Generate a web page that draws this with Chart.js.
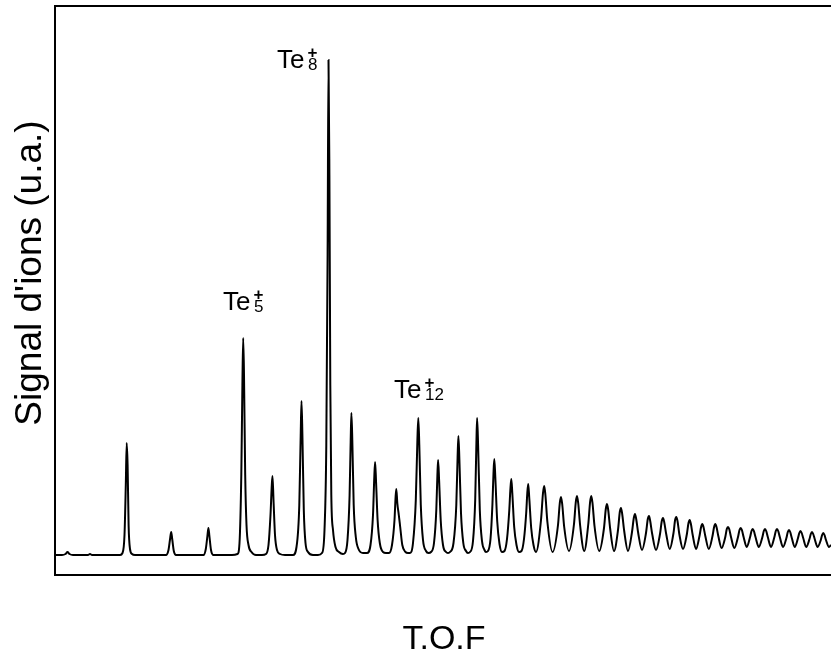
<!DOCTYPE html>
<html><head><meta charset="utf-8">
<script src="https://cdn.jsdelivr.net/npm/chart.js@4/dist/chart.umd.min.js"></script>
<style>html,body{margin:0;padding:0;background:#fff}canvas{display:block}</style>
</head><body>
<canvas id="c" width="831" height="658"></canvas>
<script>
// Time-of-flight trace (arbitrary units)
const tof = [
  0, 7, 10.5, 12.5, 14.5, 18, 33, 35, 37, 65,
  67.5, 69.5, 70.8, 71.7, 72.6, 73.6, 75, 77, 80, 105,
  111, 113.5, 115.2, 116.2, 117.2, 118.8, 121, 140,
  148.5, 150.8, 152.4, 153.4, 154.4, 156, 158.5, 177,
  182.5, 184.5, 186.3, 187.4, 188.2, 189, 190.2, 191.5, 193.5, 196.5, 201, 207,
  211, 213.5, 215.5, 216.8, 217.5, 218.5, 220, 222, 225, 230,
  238, 241.5, 244.3, 245.7, 246.5, 247.4, 248.8, 250.5, 253, 258, 263,
  267, 269.5, 271.3, 272.6, 273.5, 274.4, 275.3, 276.3, 278, 280.5, 284, 288,
  290, 292.5, 294.6, 295.7, 296.4, 297.3, 298.7, 300.8, 303.5, 308,
  312, 315.5, 318, 319.3, 320.1, 321.1, 322.6, 324.8, 328, 331,
  334, 337, 339.5, 340.6, 341.3, 342.3, 343.8, 345.2, 347.3, 350.5, 353,
  355, 358, 360.8, 362.4, 363.3, 364.3, 365.8, 368, 371, 373.5,
  376, 379, 381.3, 382.4, 383.1, 384.1, 385.7, 388, 391, 393,
  395, 398.5, 401.3, 402.6, 403.4, 404.4, 406, 408.3, 411, 413,
  415, 418, 420.2, 421.4, 422.1, 423.1, 424.8, 427, 429.5, 431,
  433, 435.5, 437.4, 438.5, 439.3, 440.3, 442.2, 444.5, 447,
  449.5, 452, 454.3, 455.4, 456.3, 457.3, 459.2, 461.5, 464,
  466.5, 469, 471.2, 472.3, 473.2, 474.2, 476.2, 478.5, 481,
  486, 488, 489.2, 490.4, 492.4, 497.6,
  503, 504.8, 506, 507.2, 509.2, 514,
  519, 520.8, 522, 523.2, 525.2, 529.2,
  533.3, 535.1, 536.3, 537.5, 539.5, 544.2,
  549, 550.8, 552, 553.2, 555.2, 559,
  563, 564.8, 566, 567.2, 569.2, 573,
  577, 578.8, 580, 581.2, 583.2, 587,
  591, 592.8, 594, 595.2, 597.2, 601,
  605, 606.8, 608, 609.2, 611.2, 614.7,
  618.5, 620.1, 621.3, 622.5, 624.3, 628,
  631.9, 633.5, 634.7, 635.9, 637.7, 641,
  644.5, 646.1, 647.3, 648.5, 650.3, 653.8,
  657.5, 659.1, 660.3, 661.5, 663.3, 666.6,
  670.3, 671.8, 673, 674.2, 676, 679.3,
  683, 684.5, 685.7, 686.9, 688.6, 691.7,
  695.1, 696.5, 697.7, 698.9, 700.5, 703.8,
  707.4, 708.8, 710, 711.2, 712.8, 716,
  719.4, 720.8, 722, 723.2, 724.8, 728,
  731.4, 732.8, 734, 735.2, 736.8, 739.7,
  743, 744.3, 745.5, 746.7, 748.2, 751.2,
  754.5, 755.8, 757, 758.2, 759.7, 762.6,
  765.8, 767.1, 768.3, 769.5, 771, 774, 776
];
const signal = [
  0, 0, 1, 3, 1, 0, 0, 1, 0, 0,
  2, 20, 70, 112, 90, 30, 6, 1, 0, 0,
  0, 5, 17, 23, 16, 4, 0, 0,
  0, 6, 19, 27, 19, 5, 0, 0,
  1, 12, 80, 170, 217, 180, 80, 30, 10, 3, 0, 0,
  1, 10, 40, 70, 79, 55, 20, 5, 1, 0,
  0, 8, 50, 120, 154, 120, 45, 12, 3, 0, 0,
  2, 25, 110, 300, 495, 380, 170, 60, 25, 8, 3, 1,
  2, 15, 60, 115, 142, 115, 50, 18, 6, 2,
  2, 10, 40, 78, 93, 72, 35, 12, 3, 2,
  2, 10, 35, 58, 66, 52, 40, 28, 10, 3, 2,
  2, 12, 55, 115, 137, 110, 50, 15, 4, 2,
  3, 12, 45, 80, 95, 75, 35, 10, 3, 2,
  3, 12, 50, 98, 119, 95, 42, 12, 4, 2,
  3, 14, 55, 112, 137, 110, 45, 14, 5, 3,
  4, 16, 50, 82, 96, 78, 34, 11, 3,
  4, 16, 45, 66, 76, 62, 28, 10, 3,
  4, 16, 42, 62, 71, 58, 27, 10, 3,
  35, 62, 69, 60, 33, 3,
  30, 52, 58, 51, 28, 4,
  31, 53, 59, 52, 29, 4,
  31, 53, 59, 52, 29, 4,
  27, 46, 51, 45, 26, 4,
  25, 43, 47, 41, 24, 4,
  23, 37, 41, 36, 22, 5,
  22, 36, 39, 34, 21, 5,
  21, 34, 37, 33, 21, 6,
  22, 35, 38, 34, 21, 6,
  21, 32, 35, 31, 20, 6,
  19, 28, 31, 28, 19, 6,
  19, 28, 31, 28, 19, 7,
  18, 26, 28, 26, 18, 7,
  18, 25, 27, 25, 18, 8,
  18, 24, 26, 24, 18, 8,
  18, 24, 26, 24, 18, 8,
  18, 24, 26, 24, 18, 8,
  17, 23, 25, 23, 17, 8,
  17, 22, 24, 22, 17, 8,
  16, 21, 23, 21, 16, 8,
  15, 20, 22, 20, 15, 8, 10
];
// Peak annotations
const labelElement = ['Te', 'Te', 'Te'];
const labelSize = ['5', '8', '12'];
const labelTof = [168, 222, 339];
const labelSignal = [245, 487, 157];
const yTitle = "Signal d'ions (u.a.)";
const xTitle = 'T.O.F';

const FONT = "'Liberation Sans', Arial, Helvetica, sans-serif";

const textLayer = {
  id: 'textLayer',
  afterDatasetsDraw(chart) {
    const ctx = chart.ctx, xs = chart.scales.x, ys = chart.scales.y;
    const area = chart.chartArea;
    ctx.save();
    ctx.fillStyle = '#000';
    // peak labels
    for (let i = 0; i < labelElement.length; i++) {
      const x0 = xs.getPixelForValue(labelTof[i]);
      const y0 = ys.getPixelForValue(labelSignal[i]);
      ctx.textBaseline = 'alphabetic';
      ctx.textAlign = 'left';
      ctx.font = '26px ' + FONT;
      ctx.fillText(labelElement[i], x0, y0);
      ctx.font = '17px ' + FONT;
      ctx.fillText(labelSize[i], x0 + 31, y0 + 2);
      ctx.font = 'bold 17px ' + FONT;
      ctx.textAlign = 'center';
      ctx.fillText('+', x0 + 35.5, y0 - 10);
    }
    // y title
    ctx.save();
    ctx.translate(31, 273);
    ctx.rotate(-Math.PI / 2);
    ctx.textAlign = 'center';
    ctx.textBaseline = 'middle';
    ctx.font = '37px ' + FONT;
    ctx.fillText(yTitle, 0, 0);
    ctx.restore();
    // x title
    ctx.textAlign = 'center';
    ctx.textBaseline = 'middle';
    ctx.font = '34px ' + FONT;
    ctx.fillText(xTitle, (area.left + area.right) / 2 + 1, 640);
    ctx.restore();
  }
};

new Chart(document.getElementById('c'), {
  type: 'line',
  data: {
    datasets: [{
      data: tof.map((t, i) => ({x: t, y: signal[i]})),
      borderColor: '#000',
      borderWidth: 2,
      pointRadius: 0,
      cubicInterpolationMode: 'monotone',
      fill: false
    }]
  },
  options: {
    responsive: false,
    animation: false,
    devicePixelRatio: 1,
    layout: {padding: {top: 6, left: 55, right: 0, bottom: 83}},
    plugins: {legend: {display: false}, tooltip: {enabled: false}},
    scales: {
      x: {
        type: 'linear', position: 'bottom', min: 0, max: 776,
        ticks: {display: false},
        grid: {display: false, drawTicks: false},
        border: {display: true, color: '#000', width: 2}
      },
      x2: {
        type: 'linear', position: 'top', min: 0, max: 776,
        ticks: {display: false},
        grid: {display: false, drawTicks: false},
        border: {display: true, color: '#000', width: 2}
      },
      y: {
        type: 'linear', position: 'left', min: -20, max: 549,
        ticks: {display: false},
        grid: {display: false, drawTicks: false},
        border: {display: true, color: '#000', width: 2}
      }
    }
  },
  plugins: [textLayer]
});
</script>
</body></html>
